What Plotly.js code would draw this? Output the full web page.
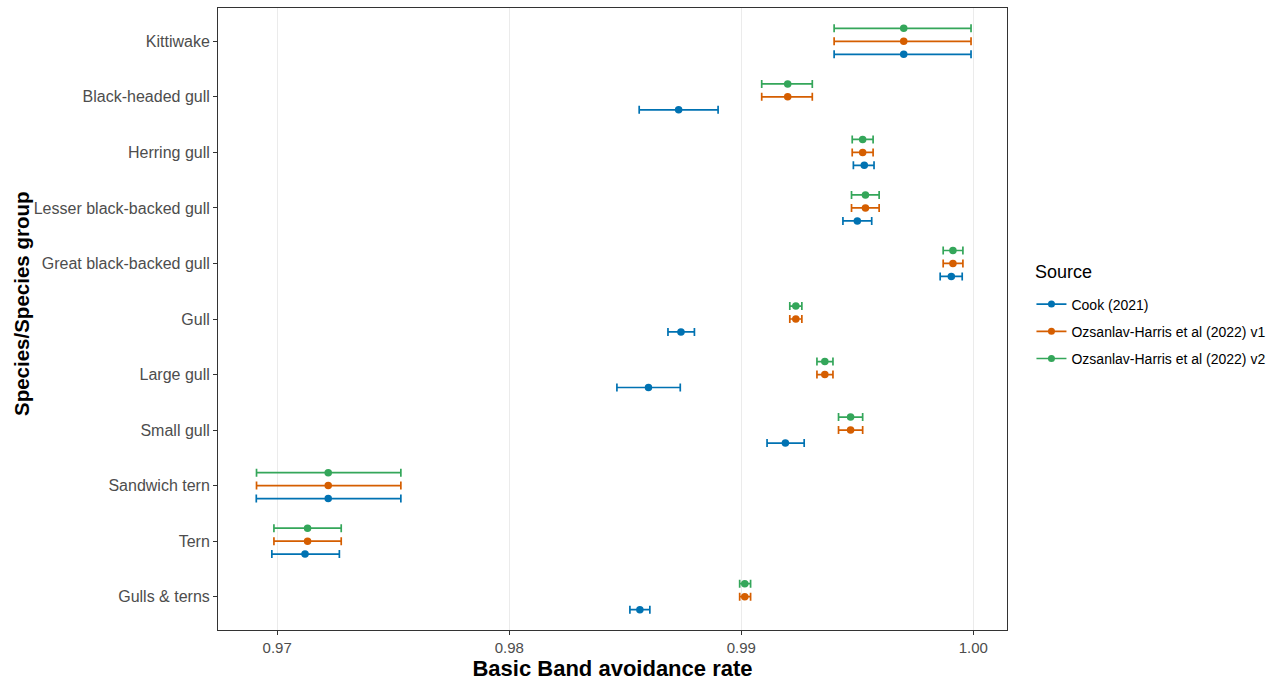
<!DOCTYPE html>
<html>
<head>
<meta charset="utf-8">
<script src="https://cdn.plot.ly/plotly-3.0.1.min.js"></script>
<style>html,body{margin:0;padding:0;background:#fff;}#chart{width:1282px;height:684px;}</style>
</head>
<body>
<div id="chart"></div>
<script>
// Categories, top to bottom
const categories = ["Kittiwake","Black-headed gull","Herring gull","Lesser black-backed gull","Great black-backed gull","Gull","Large gull","Small gull","Sandwich tern","Tern","Gulls & terns"];
const sources = ["Cook (2021)","Ozsanlav-Harris et al (2022) v1","Ozsanlav-Harris et al (2022) v2"];

// Cook (2021)
const cookMean  = [0.9970,0.9873,0.9953,0.9950,0.99905,0.9874,0.9860,0.9919,0.9722,0.9712,0.98563];
const cookLow   = [0.9940,0.9856,0.99483,0.99438,0.99857,0.98684,0.98464,0.99111,0.96910,0.96977,0.98520];
const cookHigh  = [0.9999,0.9890,0.99572,0.99562,0.99952,0.98798,0.98737,0.99271,0.97533,0.97268,0.98606];

// Ozsanlav-Harris et al (2022) v1
const v1Mean = [0.9970,0.9920,0.99523,0.99535,0.99912,0.99235,0.9936,0.99471,0.9722,0.97131,0.99015];
const v1Low  = [0.9940,0.99088,0.99478,0.99475,0.99870,0.99209,0.99326,0.99419,0.96911,0.96986,0.98993];
const v1High = [0.9999,0.99306,0.99568,0.99594,0.99955,0.99261,0.99395,0.99523,0.97533,0.97276,0.99040];

// Ozsanlav-Harris et al (2022) v2
const v2Mean = [0.9970,0.9920,0.99523,0.99535,0.99912,0.99235,0.9936,0.99471,0.9722,0.97131,0.99015];
const v2Low  = [0.9940,0.99088,0.99478,0.99475,0.99870,0.99209,0.99326,0.99419,0.96911,0.96986,0.98993];
const v2High = [0.9999,0.99306,0.99568,0.99594,0.99955,0.99261,0.99395,0.99523,0.97533,0.97276,0.99040];

const xTickVals = [0.97,0.98,0.99,1.00];
const xTickText = ["0.97","0.98","0.99","1.00"];

const colors = ["#0072B2","#D55E00","#34A65A"];
const dodge = [-0.2333, 0, 0.2333];
const series = [[cookMean,cookLow,cookHigh],[v1Mean,v1Low,v1High],[v2Mean,v2Low,v2High]];

const n = categories.length;
const catPos = categories.map((c,i)=> n - i); // Kittiwake at top

const traces = [];
series.forEach((s,k)=>{
  const [m,lo,hi] = s;
  traces.push({
    type:'scatter', mode:'markers',
    x: m,
    y: catPos.map(p=>p+dodge[k]),
    marker:{color:colors[k], size:7.5},
    error_x:{type:'data', symmetric:false,
      array: m.map((v,i)=>hi[i]-v),
      arrayminus: m.map((v,i)=>v-lo[i]),
      color:colors[k], thickness:1.7, width:4},
    showlegend:false, hoverinfo:'x+y'
  });
});
sources.forEach((name,k)=>{
  traces.push({
    type:'scatter', mode:'lines+markers', x:[null], y:[null],
    name:name, legendgroup:'g'+k,
    line:{color:colors[k], width:1.7},
    marker:{color:colors[k], size:7},
    showlegend:true
  });
});

const layout = {
  width:1282, height:684,
  paper_bgcolor:'#ffffff', plot_bgcolor:'#ffffff',
  margin:{l:218, r:275, t:8, b:54},
  font:{family:'Liberation Sans, Arial, sans-serif', color:'#4D4D4D'},
  xaxis:{
    range:[0.96745,1.00145],
    tickvals:xTickVals, ticktext:xTickText,
    showgrid:true, gridcolor:'#EBEBEB', gridwidth:1.2,
    zeroline:false,
    ticks:'outside', ticklen:4, tickcolor:'#333333', tickwidth:1,
    tickfont:{size:15, color:'#4D4D4D'},
    showline:true, linecolor:'#333333', linewidth:1, mirror:true,
    title:{text:'<b>Basic Band avoidance rate</b>', font:{size:22, color:'#000000'}, standoff:4}
  },
  yaxis:{
    range:[0.4,11.6],
    tickvals:catPos, ticktext:categories,
    showgrid:false, zeroline:false,
    ticks:'outside', ticklen:4, tickcolor:'#333333', tickwidth:1,
    tickfont:{size:16, color:'#4D4D4D'},
    showline:true, linecolor:'#333333', linewidth:1, mirror:true,
    title:{text:''}
  },
  legend:{
    x:1.031, xanchor:'left', y:0.549, yanchor:'top',
    font:{size:14, color:'#000000'},
    tracegroupgap:6, traceorder:'grouped',
    itemwidth:30
  },
  annotations:[{
    text:'Source', xref:'paper', yref:'paper', x:1.033, y:0.5756,
    xanchor:'left', yanchor:'middle', showarrow:false,
    font:{size:18, color:'#000000'}
  },{
    text:'<b>Species/Species group</b>', xref:'paper', yref:'paper',
    x:(21-218)/789, y:(630-304)/622, xanchor:'center', yanchor:'middle',
    textangle:-90, showarrow:false,
    font:{size:20.5, color:'#000000'}
  }],
  showlegend:true
};

Plotly.newPlot('chart', traces, layout, {displayModeBar:false, staticPlot:true});
</script>
</body>
</html>
